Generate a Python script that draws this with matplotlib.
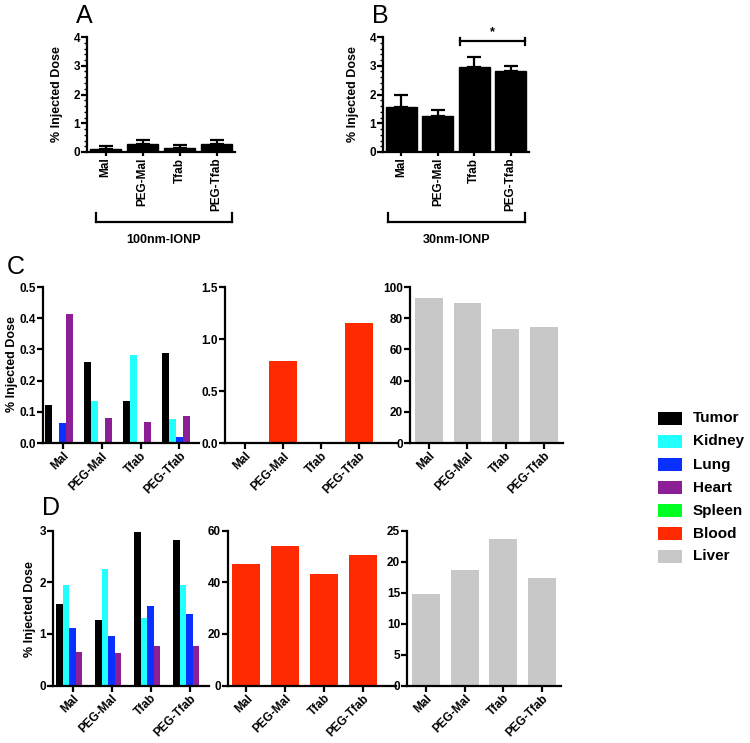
import matplotlib
matplotlib.use("Agg")
import matplotlib.pyplot as plt
import numpy as np
from matplotlib.patches import Rectangle
from matplotlib.lines import Line2D

plt.rcParams['font.family'] = ['Liberation Sans', 'DejaVu Sans']
plt.rcParams['font.weight'] = 'bold'

# ---------------- data ----------------
groups = ["Mal", "PEG-Mal", "Tfab", "PEG-Tfab"]
organs = ["Tumor", "Kidney", "Lung", "Heart", "Spleen", "Blood", "Liver"]
organ_colors = ["#000000", "#22FFFF", "#0A30FF", "#8C1F96", "#00FF22", "#FF2A00", "#C8C8C8"]

# Panel A (100nm-IONP), tumor uptake
a_mean = [0.12, 0.27, 0.13, 0.28]
a_err = [0.10, 0.16, 0.10, 0.15]
# Panel B (30nm-IONP), tumor uptake
b_mean = [1.57, 1.25, 2.97, 2.82]
b_err = [0.43, 0.20, 0.33, 0.18]

# Panel C (100nm) organ distribution
c_tumor = [0.123, 0.260, 0.135, 0.288]
c_kidney = [0.0, 0.135, 0.283, 0.077]
c_lung = [0.065, 0.0, 0.0, 0.020]
c_heart = [0.415, 0.080, 0.068, 0.088]
c_spleen = [0.0, 0.0, 0.0, 0.0]
c_blood = [0.0, 0.79, 0.0, 1.155]
c_liver = [92.8, 89.6, 72.8, 74.3]

# Panel D (30nm) organ distribution
d_tumor = [1.57, 1.26, 2.97, 2.82]
d_kidney = [1.95, 2.25, 1.31, 1.94]
d_lung = [1.12, 0.96, 1.54, 1.38]
d_heart = [0.65, 0.62, 0.76, 0.76]
d_spleen = [0.0, 0.0, 0.0, 0.0]
d_blood = [46.9, 54.0, 43.0, 50.7]
d_liver = [14.7, 18.6, 23.6, 17.3]

# ---------------- layout helpers ----------------
W, H = 750, 743
fig = plt.figure(figsize=(W / 100, H / 100), dpi=100)


def px_axes(left, right, top, bottom):
    return fig.add_axes([left / W, 1 - bottom / H, (right - left) / W, (bottom - top) / H])


TICK_FS = 8.5
LW = 1.6


def style(ax):
    for s in ["top", "right"]:
        ax.spines[s].set_visible(False)
    for s in ["left", "bottom"]:
        ax.spines[s].set_linewidth(LW)
    ax.tick_params(axis="both", which="major", direction="out", width=LW, length=4,
                   labelsize=TICK_FS, pad=1)
    ax.tick_params(axis="both", which="minor", direction="out", width=1.0, length=2.5)
    for lab in ax.get_yticklabels():
        lab.set_fontweight("bold")


x = np.arange(len(groups))


def panel_ab(ax, mean, err):
    ax.bar(x, mean, width=0.85, color="black", edgecolor="black")
    ax.errorbar(x, mean, yerr=[np.zeros(len(err)), err], fmt="none", ecolor="black",
                elinewidth=1.6, capsize=5, capthick=1.6)
    ax.set_xlim(-0.5, 3.5)
    ax.set_ylim(0, 4)
    ax.set_yticks([0, 1, 2, 3, 4])
    ax.set_yticks(np.arange(0, 4.01, 0.2), minor=True)
    ax.set_xticks(x)
    ax.set_xticklabels(groups, rotation=90, fontsize=TICK_FS, fontweight="bold")
    style(ax)
    ax.tick_params(axis="x", length=3)


def organ_panel(ax, series, colors, xlim, ylim, yticks, yticklabels, width):
    n = len(series)
    for i, (vals, col) in enumerate(zip(series, colors)):
        offs = (i - (n - 1) / 2) * width
        ax.bar(x + offs, vals, width=width, color=col, edgecolor="none")
    ax.set_xlim(*xlim)
    ax.set_ylim(*ylim)
    ax.set_yticks(yticks)
    ax.set_yticklabels(yticklabels, fontsize=TICK_FS, fontweight="bold")
    ax.set_xticks(x)
    ax.set_xticklabels(groups, rotation=45, ha="right", rotation_mode="anchor",
                       fontsize=TICK_FS, fontweight="bold")
    style(ax)


# ---------------- panel A ----------------
axA = px_axes(87, 235, 37, 152)
panel_ab(axA, a_mean, a_err)
# ---------------- panel B ----------------
axB = px_axes(383, 529, 37, 152)
panel_ab(axB, b_mean, b_err)
# significance bar B
axB.plot([1.6, 3.4], [3.85, 3.85], color="black", lw=1.6, clip_on=False)
axB.plot([1.6, 1.6], [3.72, 3.98], color="black", lw=1.6, clip_on=False)
axB.plot([3.4, 3.4], [3.72, 3.98], color="black", lw=1.6, clip_on=False)
axB.text(2.5, 3.95, "*", ha="center", va="bottom", fontsize=9, fontweight="bold")


# brackets under A and B (figure pixel coords)
def bracket(x0, x1, y, text):
    fy = lambda v: 1 - v / H
    fx = lambda v: v / W
    fig.add_artist(Line2D([fx(x0), fx(x1)], [fy(y), fy(y)], color="black", lw=1.6))
    fig.add_artist(Line2D([fx(x0), fx(x0)], [fy(y), fy(y - 9)], color="black", lw=1.6))
    fig.add_artist(Line2D([fx(x1), fx(x1)], [fy(y), fy(y - 9)], color="black", lw=1.6))
    fig.text(fx((x0 + x1) / 2), fy(y + 18), text, ha="center", va="center",
             fontsize=9, fontweight="bold")


bracket(96, 232, 222, "100nm-IONP")
bracket(388, 525, 222, "30nm-IONP")

# ---------------- panel C ----------------
axC1 = px_axes(43, 199, 287, 443)
organ_panel(axC1, [c_tumor, c_kidney, c_lung, c_heart, c_spleen], organ_colors[:5],
            (-0.5, 3.5), (0, 0.5), [0, 0.1, 0.2, 0.3, 0.4, 0.5],
            ["0.0", "0.1", "0.2", "0.3", "0.4", "0.5"], 0.18)
axC2 = px_axes(225, 397, 287, 443)
organ_panel(axC2, [c_blood], [organ_colors[5]], (-0.52, 4.0), (0, 1.5),
            [0, 0.5, 1.0, 1.5], ["0.0", "0.5", "1.0", "1.5"], 0.72)
axC3 = px_axes(410, 563, 287, 443)
organ_panel(axC3, [c_liver], [organ_colors[6]], (-0.5, 3.5), (0, 100),
            [0, 20, 40, 60, 80, 100], ["0", "20", "40", "60", "80", "100"], 0.72)

# ---------------- panel D ----------------
axD1 = px_axes(53, 209, 530.5, 685.5)
organ_panel(axD1, [d_tumor, d_kidney, d_lung, d_heart, d_spleen], organ_colors[:5],
            (-0.5, 3.5), (0, 3), [0, 1, 2, 3], ["0", "1", "2", "3"], 0.17)
axD2 = px_axes(228, 396, 530.5, 685.5)
organ_panel(axD2, [d_blood], [organ_colors[5]], (-0.475, 3.86), (0, 60),
            [0, 20, 40, 60], ["0", "20", "40", "60"], 0.72)
axD3 = px_axes(407, 561, 530.5, 685.5)
organ_panel(axD3, [d_liver], [organ_colors[6]], (-0.5, 3.5), (0, 25),
            [0, 5, 10, 15, 20, 25], ["0", "5", "10", "15", "20", "25"], 0.72)

# ---------------- y labels ----------------
for (xp, yp) in [(57, 94), (353, 94), (12, 364), (30, 609)]:
    fig.text(xp / W, 1 - yp / H, "% Injected Dose", rotation=90, ha="center", va="center",
             fontsize=9, fontweight="bold")

# ---------------- panel letters ----------------
for (xp, yp, t) in [(76, 16, "A"), (372, 16, "B"), (7, 267, "C"), (42, 508, "D")]:
    fig.text(xp / W, 1 - yp / H, t, ha="left", va="center", fontsize=18, fontweight="normal")

# ---------------- legend ----------------
axL = fig.add_axes([0, 0, 1, 1])
axL.set_xlim(0, W)
axL.set_ylim(H, 0)
axL.axis("off")
for i, (name, col) in enumerate(zip(organs, organ_colors)):
    ytop = 411.5 + i * 23
    axL.add_patch(Rectangle((658, ytop), 24, 13.5, facecolor=col, edgecolor="none"))
    axL.text(693, ytop + 7, name, ha="left", va="center", fontsize=11, fontweight="bold")

fig.savefig("out.png", dpi=100)
